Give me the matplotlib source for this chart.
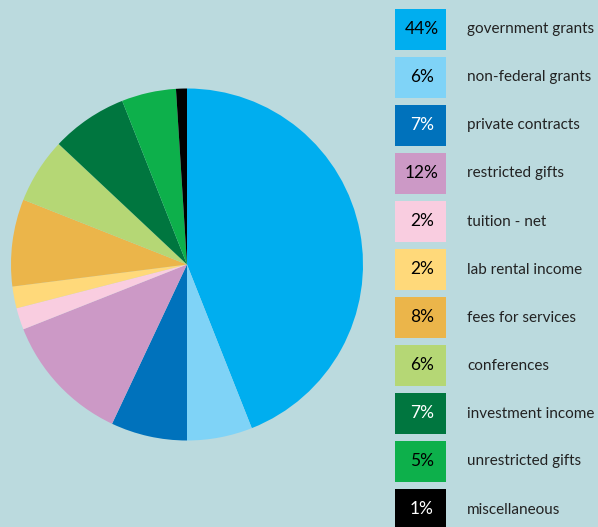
import matplotlib
matplotlib.use("Agg")
import matplotlib.pyplot as plt
from matplotlib.patches import Rectangle

categories = ["government grants", "non-federal grants", "private contracts",
              "restricted gifts", "tuition - net", "lab rental income",
              "fees for services", "conferences", "investment income",
              "unrestricted gifts", "miscellaneous"]
values = [44, 6, 7, 12, 2, 2, 8, 6, 7, 5, 1]
colors = ["#00AEEF", "#7FD3F7", "#0072BC", "#CC99C6", "#F9CDE0", "#FFD97A",
          "#EBB54A", "#B5D775", "#00763F", "#0DB04B", "#000000"]
pct_text_colors = ["black", "black", "white", "black", "black", "black",
                   "black", "black", "white", "black", "white"]

BG = "#BBDADE"
W, H = 598, 527
fig = plt.figure(figsize=(W / 100, H / 100), dpi=100, facecolor=BG)
ax = fig.add_axes([0, 0, 1, 1])
ax.set_facecolor(BG)

ax.pie(values, colors=colors, startangle=90, counterclock=False,
       center=(187, H - 264.5), radius=176,
       wedgeprops=dict(linewidth=0))

fam = ["Lato", "DejaVu Sans"]
for i, (cat, v, c, tc) in enumerate(zip(categories, values, colors, pct_text_colors)):
    yc = 29.5 + 48 * i
    ax.add_patch(Rectangle((395, H - (yc + 20.5)), 51, 41, facecolor=c,
                           edgecolor="none"))
    ax.text(422, H - yc, f"{v}%", ha="center", va="center", color=tc,
            fontsize=12.5, family=fam)
    ax.text(467, H - yc, cat, ha="left", va="center", color="#222222",
            fontsize=11, family=fam)

ax.set_xlim(0, W)
ax.set_ylim(0, H)
ax.set_aspect("equal")
ax.axis("off")
fig.savefig("out.png", dpi=100, facecolor=BG)
